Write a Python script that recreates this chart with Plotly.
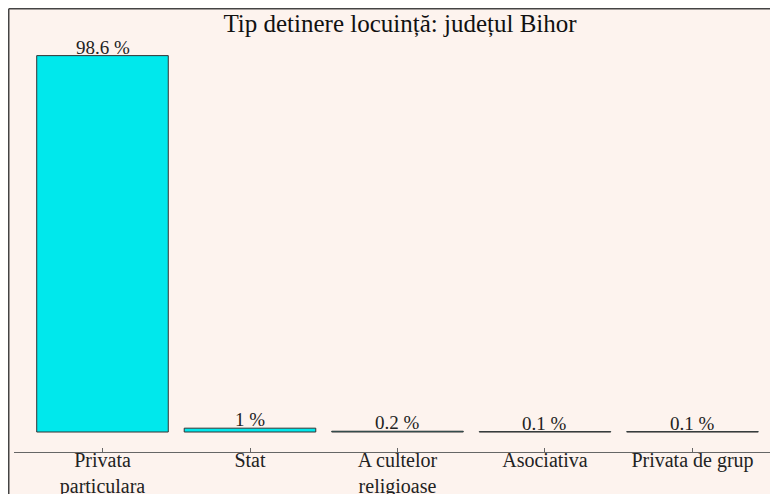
import plotly.graph_objects as go

# data
categories = ["Privata<br>particulara", "Stat", "A cultelor<br>religioase", "Asociativa", "Privata de grup"]
values = [98.6, 1.0, 0.2, 0.1, 0.1]
labels = ["98.6 %", "1 %", "0.2 %", "0.1 %", "0.1 %"]

W, H = 778, 494
BG = "#FDF3EE"
FONT = "Liberation Serif, Times New Roman, serif"

# plot area in figure pixels (page has an 8px body margin)
left, right, top, bottom = 6, 778, 12, 444

fig = go.Figure()
fig.add_trace(go.Bar(
    x=list(range(len(categories))), y=values,
    marker=dict(color="#00E8EC", line=dict(color="#333333", width=1)),
    cliponaxis=False,
))

# value labels sit right on top of the bars
for i, (v, t) in enumerate(zip(values, labels)):
    fig.add_annotation(x=i, y=v, text=t, showarrow=False, yanchor="bottom", yshift=-4,
                       font=dict(family=FONT, size=19, color="#222222"))

fig.update_layout(
    width=W, height=H,
    margin=dict(l=left, r=W - right, t=top, b=H - bottom, autoexpand=False),
    paper_bgcolor=BG, plot_bgcolor=BG,
    font=dict(family=FONT, size=20, color="#222222"),
    bargap=0.108,
    showlegend=False,
    title=dict(text="Tip detinere locuință: județul Bihor", x=392 / W, xanchor="center",
               y=1 - 15 / H, yanchor="middle", font=dict(family=FONT, size=25, color="#111111")),
    xaxis=dict(range=[-0.6, 4.634], tickvals=list(range(len(categories))), ticktext=categories,
               showline=True, linecolor="#666666", linewidth=1, ticks="inside", ticklen=4,
               tickcolor="#666666", showgrid=False, zeroline=False, automargin=False,
               ticklabelstandoff=-10,
               tickfont=dict(family=FONT, size=20, color="#222222")),
    yaxis=dict(range=[-5.24, 107.93], visible=False, showgrid=False, zeroline=False),
)

# frame line along the top and left edges of the figure
pw, ph = right - left, bottom - top
x0 = (0.75 - left) / pw
y0 = (bottom - 0.75) / ph
fig.add_shape(type="line", xref="paper", yref="paper", x0=x0, x1=(W + 5 - left) / pw, y0=y0, y1=y0,
              line=dict(color="#444444", width=1.5))
fig.add_shape(type="line", xref="paper", yref="paper", x0=x0, x1=x0, y0=y0, y1=(bottom - H - 5) / ph,
              line=dict(color="#444444", width=1.5))

fig.write_html("out.html")
